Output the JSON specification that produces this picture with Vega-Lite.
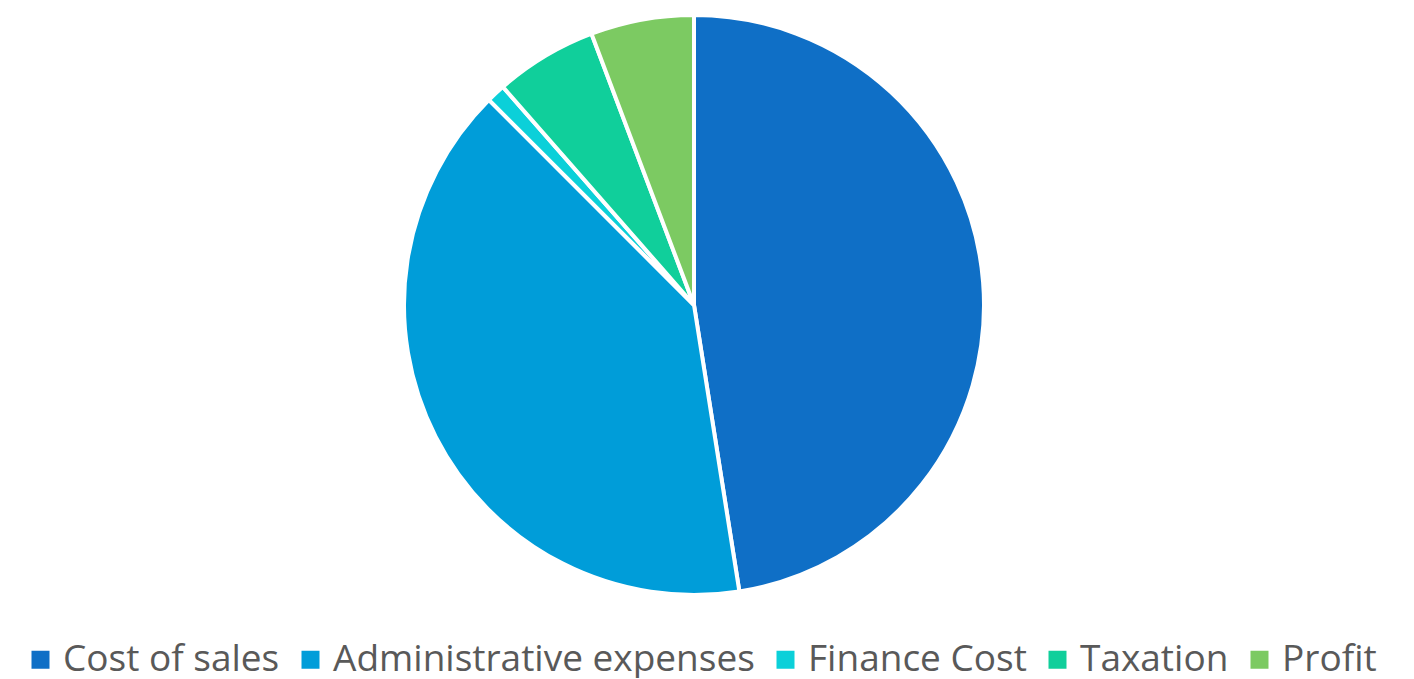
{
  "$schema": "https://vega.github.io/schema/vega-lite/v6.json",
  "width": 1388,
  "height": 610,
  "padding": 0,
  "background": "white",
  "view": {"stroke": null},
  "data": {
    "values": [
      {"item": "Cost of sales", "value": 47.5, "order": 1},
      {"item": "Administrative expenses", "value": 40.0, "order": 2},
      {"item": "Finance Cost", "value": 1.05, "order": 3},
      {"item": "Taxation", "value": 5.7, "order": 4},
      {"item": "Profit", "value": 5.75, "order": 5}
    ]
  },
  "mark": {"type": "arc", "outerRadius": 290, "stroke": "white", "strokeWidth": 4},
  "encoding": {
    "theta": {"field": "value", "type": "quantitative", "stack": true},
    "order": {"field": "order", "type": "quantitative"},
    "color": {
      "field": "item",
      "type": "nominal",
      "scale": {
        "domain": ["Cost of sales", "Administrative expenses", "Finance Cost", "Taxation", "Profit"],
        "range": ["#0F6FC6", "#009DD9", "#0BD0D9", "#10CF9B", "#7CCA62"]
      },
      "legend": {
        "orient": "none",
        "legendX": 22,
        "legendY": 641,
        "direction": "horizontal",
        "columns": 5,
        "title": null,
        "symbolType": "square",
        "symbolSize": 324,
        "symbolStrokeWidth": 0,
        "labelFontSize": 37,
        "labelFont": "Open Sans",
        "labelColor": "#595959",
        "labelOffset": 4,
        "labelLimit": 0,
        "columnPadding": 12,
        "padding": 0
      }
    }
  }
}
